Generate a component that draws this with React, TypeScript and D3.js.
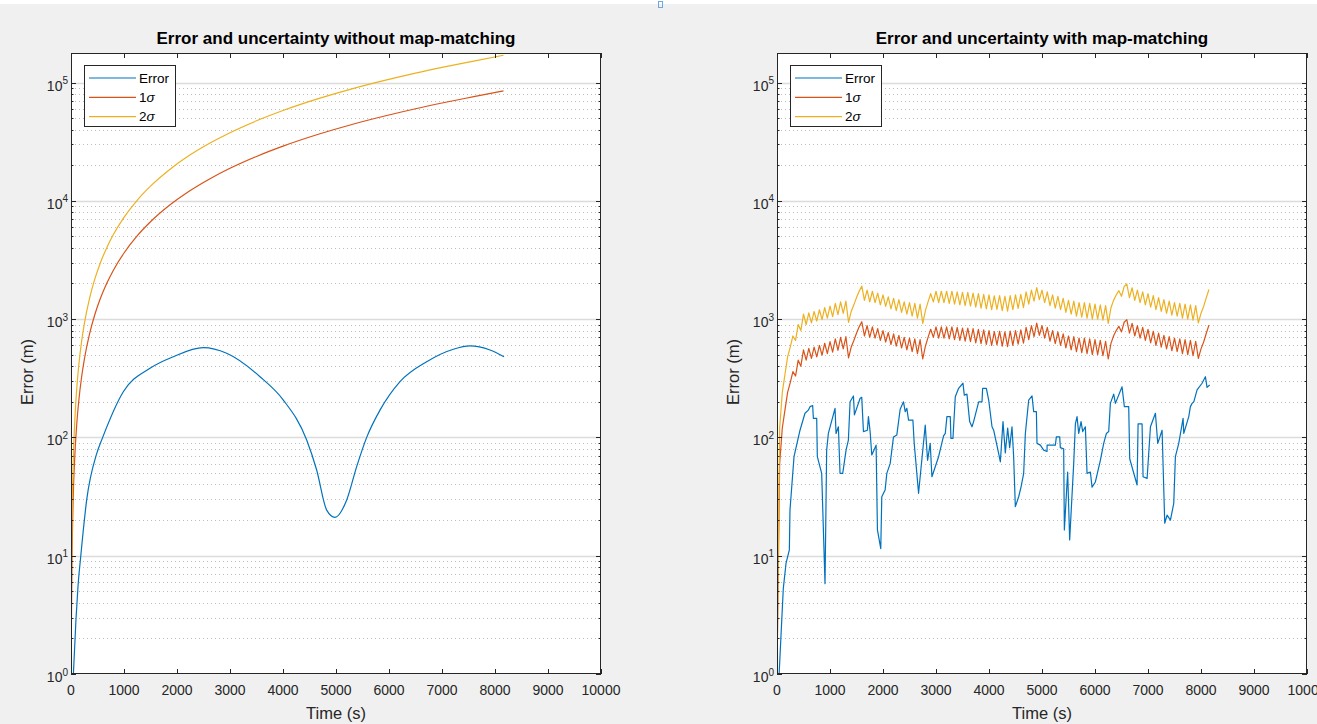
import { useEffect, useRef } from 'react';
import * as d3 from 'd3';

const W = 1317;
const H = 724;

// ---- data: without map-matching ----
const freeTime = [0, 10, 20, 40, 75, 110, 150, 200, 250, 350, 450, 550, 673, 800, 1000, 1240, 1500, 1900, 2200, 2623, 3000, 3500, 4000, 4698, 5300, 5957, 6500, 7000, 7600, 8160];
const freeSigma1 = [1, 3.6, 10, 29, 74, 132, 210, 324, 453, 750, 1093, 1478, 2000, 2592, 3620, 5000, 6650, 9480, 11820, 15380, 18820, 23720, 28980, 36860, 44200, 52600, 60030, 67090, 75900, 85000];
const freeSigma2 = [1, 7.2, 20, 58, 148, 264, 420, 648, 906, 1500, 2186, 2956, 4000, 5184, 7240, 10000, 13300, 18960, 23640, 30760, 37640, 47440, 57960, 73720, 88400, 105200, 120060, 134180, 151800, 170000];

const freeErrTime = [45, 94, 132, 183, 296, 485, 598, 987, 1490, 1930, 2497, 2937, 3566, 4006, 4447, 4635, 4824, 4981, 5202, 5390, 5579, 5830, 6208, 6711, 7214, 7528, 7906, 8170];
const freeErr = [1, 2.9, 5.5, 9.8, 29.6, 73, 100, 243, 384, 481, 573, 514, 326, 207, 95, 53, 24.3, 21.1, 29.6, 56.6, 100, 170, 296, 436, 556, 593, 548, 481];

// ---- data: with map-matching (right panel) ----
const SIGMA_STEP = 50; // seconds between sigma samples
const mmSigma1 = [
  1, 60, 120, 170, 240, 290, 360, 330, 450, 400,
  550, 450, 565, 465, 580, 480, 600, 495, 625, 510,
  645, 525, 680, 545, 700, 560, 710, 470, 580, 660,
  760, 860, 950, 720, 880, 700, 860, 690, 830, 660,
  800, 640, 770, 610, 750, 590, 730, 570, 700, 550,
  690, 530, 680, 510, 670, 460, 590, 700, 820, 700,
  860, 690, 860, 690, 860, 680, 860, 670, 850, 660,
  840, 650, 840, 645, 830, 630, 820, 620, 810, 610,
  800, 600, 785, 605, 790, 590, 780, 585, 790, 600,
  800, 615, 810, 625, 850, 670, 880, 710, 925, 730,
  880, 690, 850, 650, 800, 620, 780, 600, 750, 570,
  720, 550, 710, 530, 690, 520, 690, 510, 680, 500,
  670, 500, 660, 490, 650, 460, 620, 720, 800, 870,
  780, 940, 990, 760, 920, 720, 880, 690, 850, 660,
  820, 630, 790, 600, 760, 580, 730, 560, 710, 540,
  690, 530, 680, 510, 670, 500, 660, 490, 650, 465,
  560, 640, 760, 890,
];
const mmSigma2 = [
  1, 120, 240, 340, 480, 580, 720, 660, 900, 800,
  1100, 900, 1130, 930, 1160, 960, 1200, 990, 1250, 1020,
  1290, 1050, 1360, 1090, 1400, 1120, 1420, 940, 1160, 1320,
  1520, 1720, 1900, 1440, 1760, 1400, 1720, 1380, 1660, 1320,
  1600, 1280, 1540, 1220, 1500, 1180, 1460, 1140, 1400, 1100,
  1380, 1060, 1360, 1020, 1340, 920, 1180, 1400, 1640, 1400,
  1720, 1380, 1720, 1380, 1720, 1360, 1720, 1340, 1700, 1320,
  1680, 1300, 1680, 1290, 1660, 1260, 1640, 1240, 1620, 1220,
  1600, 1200, 1570, 1210, 1580, 1180, 1560, 1170, 1580, 1200,
  1600, 1230, 1620, 1250, 1700, 1340, 1760, 1420, 1850, 1460,
  1760, 1380, 1700, 1300, 1600, 1240, 1560, 1200, 1500, 1140,
  1440, 1100, 1420, 1060, 1380, 1040, 1380, 1020, 1360, 1000,
  1340, 1000, 1320, 980, 1300, 920, 1240, 1440, 1600, 1740,
  1560, 1880, 1980, 1520, 1840, 1440, 1760, 1380, 1700, 1320,
  1640, 1260, 1580, 1200, 1520, 1160, 1460, 1120, 1420, 1080,
  1380, 1060, 1360, 1020, 1340, 1000, 1320, 980, 1300, 930,
  1120, 1280, 1520, 1780,
];

const mmErrTime = [
  40, 119, 170, 233, 245, 321, 434, 528, 591, 623, 673, 686, 749, 761, 843, 906, 937, 969, 1095, 1114,
  1158, 1189, 1240, 1303, 1347, 1379, 1442, 1461, 1568, 1599, 1631, 1706, 1725, 1757, 1788, 1870, 1895, 1958, 1977, 2040,
  2072, 2135, 2198, 2261, 2324, 2387, 2419, 2450, 2482, 2564, 2589, 2671, 2797, 2841, 2891, 2923, 3049, 3143, 3175, 3206,
  3269, 3282, 3320, 3364, 3427, 3509, 3534, 3584, 3635, 3679, 3710, 3805, 3868, 3880, 3950, 3994, 4057, 4088, 4183, 4214,
  4264, 4308, 4352, 4390, 4434, 4465, 4497, 4560, 4604, 4654, 4686, 4749, 4812, 4843, 4894, 4906, 4969, 5032, 5095, 5096,
  5252, 5271, 5334, 5346, 5409, 5422, 5484, 5522, 5598, 5630, 5661, 5693, 5737, 5768, 5818, 5850, 5913, 5944, 6007, 6101,
  6164, 6215, 6259, 6290, 6353, 6385, 6510, 6554, 6636, 6655, 6794, 6813, 6888, 6907, 6983, 7046, 7140, 7184, 7266, 7316,
  7360, 7423, 7486, 7517, 7580, 7662, 7675, 7769, 7800, 7832, 7864, 7926, 8020, 8083, 8114, 8164,
];
const mmErr = [
  1, 5.3, 8.6, 11.2, 24.3, 68.7, 115, 160, 170, 182, 186, 145, 145, 68.7, 49.7, 5.8, 78, 108, 176, 108,
  123, 49.7, 49.7, 78, 95, 200, 224, 155, 214, 218, 112, 115, 150, 112, 71, 86, 16.5, 11.5, 31.5, 36,
  49.7, 60, 101, 105, 173, 200, 165, 176, 140, 140, 89, 33.7, 127, 64, 89, 46.5, 68.7, 103, 108, 150,
  150, 98, 98, 221, 260, 287, 228, 232, 136, 123, 136, 200, 200, 260, 260, 207, 123, 115, 73, 62,
  136, 74, 120, 82, 123, 68.7, 26, 31.5, 38, 49.7, 108, 207, 224, 165, 165, 89, 86, 78, 76, 86,
  86, 101, 101, 82, 80, 16.5, 51, 13.6, 60, 130, 150, 108, 136, 112, 123, 49.7, 51, 38, 42, 64,
  89, 108, 112, 194, 232, 194, 268, 182, 182, 66, 39.6, 130, 130, 46.5, 45, 123, 160, 89, 115, 18.8,
  22, 20, 27.7, 68.7, 89, 145, 108, 150, 182, 194, 200, 252, 287, 326, 265, 277,
];

const xTicks = [0, 1000, 2000, 3000, 4000, 5000, 6000, 7000, 8000, 9000, 10000];
const yDecades = [0, 1, 2, 3, 4, 5];
const seriesNames = ['Error', '1σ', '2σ'];

const COLORS = ['#0072BD', '#D95319', '#EDB120'];
const FONT = '"Liberation Sans", Arial, Helvetica, sans-serif';
const AXIS_COLOR = '#262626';

const AX_W = 530;
const AX_TOP = 53;
const AX_BOTTOM = 674;
const Y_MAX = 1.776e5;

interface PanelSpec {
  id: string;
  left: number;
  title: string;
  smooth: boolean;
  errT: number[];
  err: number[];
  sigT: number[];
  sig1: number[];
  sig2: number[];
}

const sigmaTimes = mmSigma1.map((_, i) => i * SIGMA_STEP);

const PANELS: PanelSpec[] = [
  {
    id: 'free', left: 71, title: 'Error and uncertainty without map-matching', smooth: true,
    errT: freeErrTime, err: freeErr, sigT: freeTime, sig1: freeSigma1, sig2: freeSigma2,
  },
  {
    id: 'mm', left: 777, title: 'Error and uncertainty with map-matching', smooth: false,
    errT: mmErrTime, err: mmErr, sigT: sigmaTimes, sig1: mmSigma1, sig2: mmSigma2,
  },
];

function drawPanel(svg: d3.Selection<SVGSVGElement, unknown, null, undefined>, p: PanelSpec) {
  const x = d3.scaleLinear().domain([0, 10000]).range([p.left, p.left + AX_W]);
  const y = d3.scaleLog().domain([1, Y_MAX]).range([AX_BOTTOM, AX_TOP]);
  const g = svg.append('g');

  g.append('rect')
    .attr('x', p.left).attr('y', AX_TOP)
    .attr('width', AX_W).attr('height', AX_BOTTOM - AX_TOP)
    .attr('fill', '#fff');

  // minor grid (dotted)
  const minorVals: number[] = [];
  yDecades.forEach(e => {
    for (let k = 2; k <= 9; k++) {
      const v = k * Math.pow(10, e);
      if (v < Y_MAX) minorVals.push(v);
    }
  });
  g.append('g').selectAll('line').data(minorVals).join('line')
    .attr('x1', p.left).attr('x2', p.left + AX_W)
    .attr('y1', d => Math.round(y(d)) + 0.5).attr('y2', d => Math.round(y(d)) + 0.5)
    .attr('stroke', '#bdbdbd').attr('stroke-width', 1)
    .attr('stroke-dasharray', '1,3');

  // major grid
  g.append('g').selectAll('line').data(yDecades.slice(1)).join('line')
    .attr('x1', p.left).attr('x2', p.left + AX_W)
    .attr('y1', d => Math.round(y(Math.pow(10, d))) + 0.5).attr('y2', d => Math.round(y(Math.pow(10, d))) + 0.5)
    .attr('stroke', '#dcdcdc').attr('stroke-width', 1.3);

  // clip
  const clipId = `clip-${p.id}`;
  svg.append('clipPath').attr('id', clipId)
    .append('rect')
    .attr('x', p.left).attr('y', AX_TOP)
    .attr('width', AX_W).attr('height', AX_BOTTOM - AX_TOP);

  const line = d3.line<[number, number]>()
    .x(d => x(d[0]))
    .y(d => y(Math.max(1, d[1])))
    .curve(p.smooth ? d3.curveMonotoneX : d3.curveLinear);

  const lines = g.append('g').attr('clip-path', `url(#${clipId})`);
  const series: [number, number][][] = [
    p.errT.map((t, i) => [t, p.err[i]]),
    p.sigT.map((t, i) => [t, p.sig1[i]]),
    p.sigT.map((t, i) => [t, p.sig2[i]]),
  ];
  series.forEach((s, i) => {
    lines.append('path')
      .attr('d', line(s))
      .attr('fill', 'none')
      .attr('stroke', COLORS[i])
      .attr('stroke-width', 1.2)
      .attr('stroke-linejoin', 'round');
  });

  // box
  g.append('rect')
    .attr('x', p.left + 0.5).attr('y', AX_TOP + 0.5)
    .attr('width', AX_W - 1).attr('height', AX_BOTTOM - AX_TOP - 1)
    .attr('fill', 'none').attr('stroke', AXIS_COLOR).attr('stroke-width', 1);

  // x ticks (inward, bottom and top)
  const xt = g.append('g').attr('stroke', AXIS_COLOR).attr('stroke-width', 1);
  xTicks.forEach(t => {
    const px = Math.round(x(t)) + 0.5;
    xt.append('line').attr('x1', px).attr('x2', px).attr('y1', AX_BOTTOM).attr('y2', AX_BOTTOM - 5);
    xt.append('line').attr('x1', px).attr('x2', px).attr('y1', AX_TOP).attr('y2', AX_TOP + 5);
  });

  // y ticks (major + minor, left and right)
  const yt = g.append('g').attr('stroke', AXIS_COLOR).attr('stroke-width', 1);
  const right = p.left + AX_W;
  yDecades.forEach(e => {
    const py = Math.round(y(Math.pow(10, e))) + 0.5;
    yt.append('line').attr('x1', p.left).attr('x2', p.left + 5).attr('y1', py).attr('y2', py);
    yt.append('line').attr('x1', right).attr('x2', right - 5).attr('y1', py).attr('y2', py);
  });
  minorVals.forEach(v => {
    const py = Math.round(y(v)) + 0.5;
    yt.append('line').attr('x1', p.left).attr('x2', p.left + 2.5).attr('y1', py).attr('y2', py);
    yt.append('line').attr('x1', right).attr('x2', right - 2.5).attr('y1', py).attr('y2', py);
  });

  // x tick labels
  g.append('g').selectAll('text').data(xTicks).join('text')
    .attr('x', d => x(d)).attr('y', 695)
    .attr('text-anchor', 'middle')
    .attr('font-family', FONT).attr('font-size', 14)
    .attr('fill', AXIS_COLOR)
    .text(d => String(d));

  // y tick labels 10^n
  yDecades.forEach(e => {
    const t = g.append('text')
      .attr('x', p.left - 3).attr('y', y(Math.pow(10, e)) + 8)
      .attr('text-anchor', 'end')
      .attr('font-family', FONT).attr('font-size', 14)
      .attr('fill', AXIS_COLOR);
    t.append('tspan').text('10');
    t.append('tspan').attr('dy', -6.5).attr('font-size', 10).text(String(e));
  });

  // axis labels
  g.append('text')
    .attr('x', p.left + AX_W / 2).attr('y', 719)
    .attr('text-anchor', 'middle')
    .attr('font-family', FONT).attr('font-size', 16.5)
    .attr('fill', AXIS_COLOR)
    .text('Time (s)');

  g.append('text')
    .attr('transform', `translate(${p.left - 38},372) rotate(-90)`)
    .attr('text-anchor', 'middle')
    .attr('font-family', FONT).attr('font-size', 16.5)
    .attr('fill', AXIS_COLOR)
    .text('Error (m)');

  // title
  g.append('text')
    .attr('x', p.left + AX_W / 2).attr('y', 44)
    .attr('text-anchor', 'middle')
    .attr('font-family', FONT).attr('font-size', 17).attr('font-weight', 'bold')
    .attr('fill', '#000')
    .text(p.title);

  // legend
  const lg = g.append('g').attr('transform', `translate(${p.left + 13},65)`);
  lg.append('rect')
    .attr('x', 0.5).attr('y', 0.5).attr('width', 91).attr('height', 61)
    .attr('fill', '#fff').attr('stroke', AXIS_COLOR).attr('stroke-width', 1);
  seriesNames.forEach((name, i) => {
    const ly = 13 + i * 19.3;
    lg.append('line')
      .attr('x1', 5).attr('x2', 52).attr('y1', ly).attr('y2', ly)
      .attr('stroke', COLORS[i]).attr('stroke-width', 1.2);
    const txt = lg.append('text')
      .attr('x', 55).attr('y', ly + 4.8)
      .attr('font-family', FONT).attr('font-size', 13.5)
      .attr('fill', '#000');
    if (name === 'Error') {
      txt.text(name);
    } else {
      txt.append('tspan').text(name.slice(0, 1));
      txt.append('tspan').attr('font-style', 'italic').text(name.slice(1));
    }
  });
}

export default function App() {
  const svgRef = useRef<SVGSVGElement>(null);

  useEffect(() => {
    if (!svgRef.current) return;
    const svg = d3.select(svgRef.current);
    svg.selectAll('*').remove();

    svg.append('rect').attr('width', W).attr('height', H).attr('fill', '#f0f0f0');
    svg.append('rect').attr('width', W).attr('height', 4).attr('fill', '#fff');
    // small marker at top centre of the window
    svg.append('rect')
      .attr('x', 658.5).attr('y', 1.5).attr('width', 4).attr('height', 6)
      .attr('fill', 'none').attr('stroke', '#6fa8dc').attr('stroke-width', 1);

    PANELS.forEach(p => drawPanel(svg, p));
  }, []);

  return (
    <div style={{ position: 'absolute', left: 0, top: 0 }}>
      <svg ref={svgRef} width={W} height={H} style={{ display: 'block' }} />
    </div>
  );
}
